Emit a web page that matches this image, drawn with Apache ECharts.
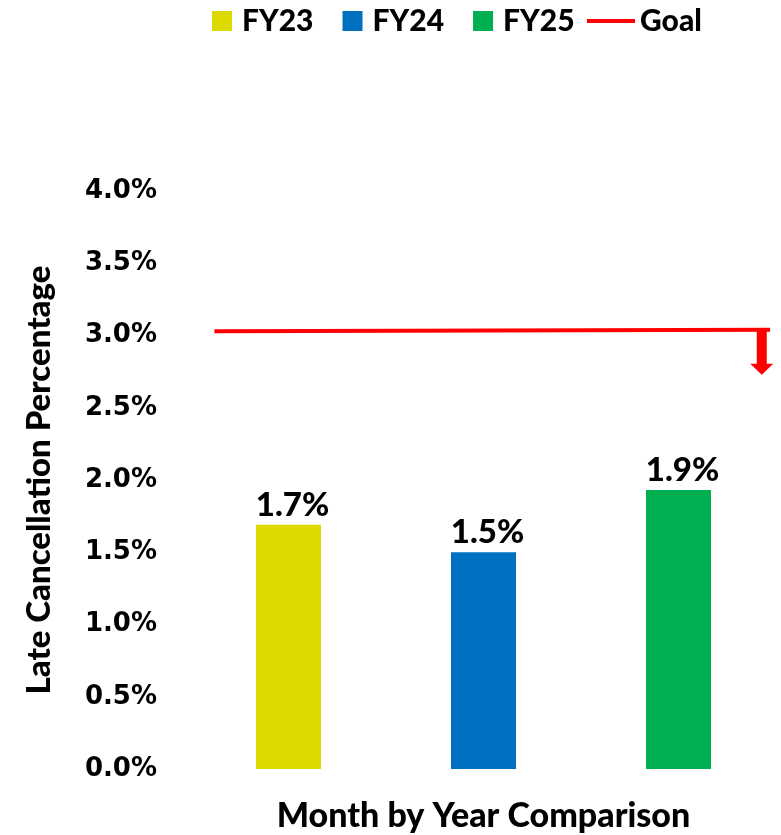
<!DOCTYPE html>
<html>
<head>
<meta charset="utf-8">
<script src="https://cdn.jsdelivr.net/npm/echarts@6/dist/echarts.min.js"></script>
<style>
html,body{margin:0;padding:0;background:#fff;}
#chart{width:781px;height:835px;}
</style>
</head>
<body>
<div id="chart"></div>
<script>
// ---- data ----
var categories = ['FY23', 'FY24', 'FY25'];
var fy23 = [1.69, null, null];
var fy24 = [null, 1.50, null];
var fy25 = [null, null, 1.93];
var goalX = [0.12, 2.97];   // position along the 3 categories (0..3)
var goalY = [3.03, 3.04];   // goal value, in %
var arrowX = 2.927;
var yTicks = { min: 0, max: 4, interval: 0.5 };

var chart = echarts.init(document.getElementById('chart'));
var labelFmt = function (p) { return p.value == null ? '' : p.value.toFixed(1) + '%'; };
function barSeries(name, data, color) {
  return {
    name: name, type: 'bar', stack: 'all', data: data, barWidth: 65,
    itemStyle: { color: color },
    label: {
      show: true, position: 'top', distance: 3, offset: [4, 0], formatter: labelFmt,
      fontFamily: 'Lato', fontWeight: 900, fontSize: 33, color: '#000'
    }
  };
}
var option = {
  animation: false,
  backgroundColor: '#fff',
  legend: [{
    left: 212, top: 6, padding: 0, itemWidth: 20, itemHeight: 20, itemGap: 29,
    icon: 'rect',
    data: ['FY23', 'FY24', 'FY25'],
    textStyle: { fontFamily: 'Lato', fontWeight: 900, fontSize: 30, color: '#000', padding: [0, 0, 0, 5] }
  }, {
    left: 587, top: 6, padding: 0, itemWidth: 48, itemHeight: 4,
    data: [{ name: 'Goal', icon: 'rect' }],
    textStyle: { fontFamily: 'Lato', fontWeight: 900, fontSize: 30, color: '#000' }
  }],
  grid: { left: 191, right: 5, top: 191, bottom: 66, containLabel: false, outerBoundsMode: 'none' },
  xAxis: [{
    type: 'category', data: categories,
    axisLine: { show: false }, axisTick: { show: false }, axisLabel: { show: false },
    name: 'Month by Year Comparison', nameLocation: 'middle', nameGap: 30,
    nameTextStyle: { fontFamily: 'Lato', fontWeight: 900, fontSize: 34, color: '#000' }
  }, {
    type: 'value', min: 0, max: 3, show: false
  }],
  yAxis: {
    type: 'value', min: yTicks.min, max: yTicks.max, interval: yTicks.interval,
    splitLine: { show: false }, axisLine: { show: false }, axisTick: { show: false },
    axisLabel: {
      margin: 34, formatter: function (v) { return v.toFixed(1) + '%'; },
      fontFamily: 'DejaVu Sans', fontWeight: 'bold', fontSize: 26, color: '#000'
    },
    name: 'Late Cancellation Percentage', nameLocation: 'middle', nameGap: 135,
    nameTextStyle: { fontFamily: 'Lato', fontWeight: 900, fontSize: 33, color: '#000' }
  },
  series: [
    barSeries('FY23', fy23, '#DDDA00'),
    barSeries('FY24', fy24, '#0070C0'),
    barSeries('FY25', fy25, '#00B050'),
    {
      name: 'Goal', type: 'line', xAxisIndex: 1, showSymbol: false, symbol: 'none',
      data: [[goalX[0], goalY[0]], [goalX[1], goalY[1]]],
      lineStyle: { color: '#FF0000', width: 4 },
      itemStyle: { color: '#FF0000' },
      markPoint: {
        symbol: 'path://M6.5,0 L16.5,0 L16.5,34 L23,34 L11.5,45 L0,34 L6.5,34 Z',
        symbolSize: [23, 45],
        symbolOffset: [0, '50%'],
        itemStyle: { color: '#FF0000' },
        label: { show: false },
        data: [{ coord: [arrowX, goalY[1]] }]
      }
    }
  ]
};
chart.setOption(option);
</script>
</body>
</html>
